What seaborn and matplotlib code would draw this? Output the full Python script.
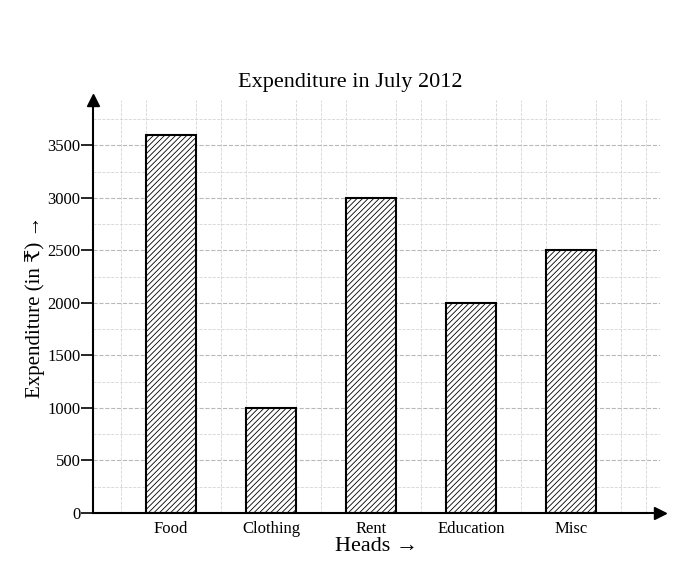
#%% IMPORTS
import matplotlib
matplotlib.use("Agg")
import matplotlib.pyplot as plt
import seaborn as sns
import pandas as pd

#%% DATA
heads = ["Food", "Clothing", "Rent", "Education", "Misc"]
expenditure = [3600, 1000, 3000, 2000, 2500]
y_ticks = [0, 500, 1000, 1500, 2000, 2500, 3000, 3500]

df = pd.DataFrame({"Heads": heads, "Expenditure": expenditure})

#%% PLOT
sns.set_style("white")
plt.rcParams["font.family"] = ["Liberation Serif", "DejaVu Serif", "DejaVu Sans"]
plt.rcParams["hatch.linewidth"] = 0.6

fig = plt.figure(figsize=(6.8, 5.66), dpi=100)
ax = fig.add_axes([0.137, 0.094, 0.833, 0.729])

sns.barplot(data=df, x="Heads", y="Expenditure", color="white",
            edgecolor="black", linewidth=1.5, width=0.5, hatch="//////", ax=ax)

ax.set_xlim(-0.78, 4.89)
ax.set_ylim(0, 3930)
ax.set_yticks(y_ticks)
ax.set_yticklabels([str(t) for t in y_ticks], fontsize=12, color="black")
ax.tick_params(axis="y", left=True, direction="out", length=9, width=1.2,
               pad=0, color="black")
ax.tick_params(axis="x", length=0, pad=6, labelsize=12, labelcolor="black")

# graph paper background
ax.set_yticks(range(250, 3930, 250), minor=True)
ax.set_xticks([i - 0.5 for i in range(6)] + [i - 0.25 for i in range(6)]
              + [i + 0.25 for i in range(5)], minor=True)
ax.grid(True, which="major", axis="y", color="#b8b8b8", linestyle="--", linewidth=0.8)
ax.grid(True, which="minor", color="#d4d4d4", linestyle="--", linewidth=0.6)
ax.tick_params(which="minor", length=0)
ax.set_axisbelow(True)

for side in ["top", "right"]:
    ax.spines[side].set_visible(False)
for side in ["left", "bottom"]:
    ax.spines[side].set_linewidth(1.5)
    ax.spines[side].set_color("black")
ax.plot(0, 1, marker="^", color="black", markersize=8, transform=ax.transAxes, clip_on=False)
ax.plot(1, 0, marker=">", color="black", markersize=8, transform=ax.transAxes, clip_on=False)

ax.set_xlabel("Heads \u2192", fontsize=16, labelpad=0, color="black")
ax.set_ylabel("Expenditure (in \u20b9) \u2192", fontsize=15, labelpad=2, color="black")
fig.text(0.515, 0.855, "Expenditure in July 2012", ha="center", va="center",
         fontsize=16, color="black")

fig.savefig("out.png", dpi=100)
